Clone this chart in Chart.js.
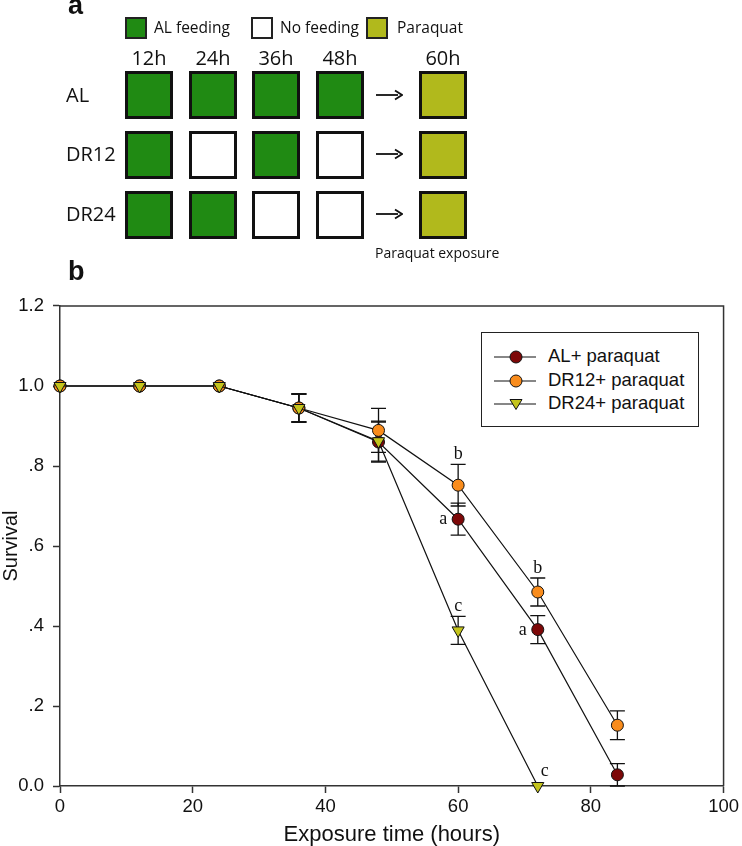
<!DOCTYPE html>
<html>
<head>
<meta charset="utf-8">
<script src="https://cdn.jsdelivr.net/npm/chart.js@4.4.1/dist/chart.umd.min.js"></script>
<style>
  html, body { margin:0; padding:0; background:#fff; }
  #wrap { position:relative; width:742px; height:846px; overflow:hidden; font-family:"Open Sans", "Noto Sans", sans-serif; color:#111; }
  #c { position:absolute; left:0; top:0; }
  .abs { position:absolute; }
  .sq { position:absolute; box-sizing:border-box; width:48px; height:48px; border:3px solid #111; }
  .lg { position:absolute; box-sizing:border-box; width:22px; height:22px; border:2px solid #222; top:17px; }
  .green { background:#208a13; }
  .white { background:#fff; }
  .para { background:#b1b91c; }
  .lgt { position:absolute; top:14px; font-size:15.5px; line-height:26px; white-space:nowrap; }
  .hh { position:absolute; top:45px; width:60px; text-align:center; font-size:20px; line-height:26px; }
  .rl { position:absolute; left:66px; font-size:20px; line-height:26px; }
  .arrow { position:absolute; left:376px; width:27px; height:12px; }
  .panel { position:absolute; font-family:"Liberation Sans", Arial, sans-serif; font-weight:bold; font-size:27px; line-height:27px; }
  #legend { position:absolute; left:481px; top:332px; width:218px; height:95px; box-sizing:border-box; border:1.3px solid #222; background:#fff; font-family:"Liberation Sans", Arial, sans-serif; font-size:18.5px; }
  .lrow { position:absolute; left:12px; height:22px; }
  .lrow svg { position:absolute; left:0; top:0; }
  .lrow span { position:absolute; left:54px; top:-1px; line-height:22px; white-space:nowrap; }
</style>
</head>
<body>
<div id="wrap">
  <canvas id="c" width="742" height="846"></canvas>

  <!-- panel a -->
  <div class="panel" style="left:68px; top:-8px;">a</div>
  <div class="lg green" style="left:125px;"></div><div class="lgt" style="left:154px;">AL feeding</div>
  <div class="lg white" style="left:251px;"></div><div class="lgt" style="left:280px;">No feeding</div>
  <div class="lg para" style="left:366px;"></div><div class="lgt" style="left:397px;">Paraquat</div>

  <div class="hh" style="left:119px;">12h</div>
  <div class="hh" style="left:183px;">24h</div>
  <div class="hh" style="left:246px;">36h</div>
  <div class="hh" style="left:310px;">48h</div>
  <div class="hh" style="left:413px;">60h</div>

  <div class="rl" style="top:82px;">AL</div>
  <div class="rl" style="top:141px;">DR12</div>
  <div class="rl" style="top:201px;">DR24</div>

  <div class="sq green" style="left:125px; top:71px;"></div>
  <div class="sq green" style="left:189px; top:71px;"></div>
  <div class="sq green" style="left:252px; top:71px;"></div>
  <div class="sq green" style="left:316px; top:71px;"></div>
  <div class="sq para"  style="left:419px; top:71px;"></div>

  <div class="sq green" style="left:125px; top:131px;"></div>
  <div class="sq white" style="left:189px; top:131px;"></div>
  <div class="sq green" style="left:252px; top:131px;"></div>
  <div class="sq white" style="left:316px; top:131px;"></div>
  <div class="sq para"  style="left:419px; top:131px;"></div>

  <div class="sq green" style="left:125px; top:191px;"></div>
  <div class="sq green" style="left:189px; top:191px;"></div>
  <div class="sq white" style="left:252px; top:191px;"></div>
  <div class="sq white" style="left:316px; top:191px;"></div>
  <div class="sq para"  style="left:419px; top:191px;"></div>

  <svg class="arrow" style="top:89px;" viewBox="0 0 27 12"><line x1="0" y1="6" x2="22" y2="6" stroke="#111" stroke-width="1.8"/><path d="M19,1.5 L26,6 L19,10.5" fill="none" stroke="#111" stroke-width="1.8"/></svg>
  <svg class="arrow" style="top:148px;" viewBox="0 0 27 12"><line x1="0" y1="6" x2="22" y2="6" stroke="#111" stroke-width="1.8"/><path d="M19,1.5 L26,6 L19,10.5" fill="none" stroke="#111" stroke-width="1.8"/></svg>
  <svg class="arrow" style="top:208px;" viewBox="0 0 27 12"><line x1="0" y1="6" x2="22" y2="6" stroke="#111" stroke-width="1.8"/><path d="M19,1.5 L26,6 L19,10.5" fill="none" stroke="#111" stroke-width="1.8"/></svg>

  <div class="abs" style="left:375px; top:243px; font-size:14px; line-height:20px;">Paraquat exposure</div>

  <!-- panel b -->
  <div class="panel" style="left:68px; top:258px;">b</div>

  <div id="legend">
    <div class="lrow" style="top:13px;">
      <svg width="44" height="22"><line x1="0" y1="11" x2="42" y2="11" stroke="#111" stroke-width="1.2"/><circle cx="22" cy="11" r="6" fill="#7d0808" stroke="#111" stroke-width="1"/></svg>
      <span>AL+ paraquat</span>
    </div>
    <div class="lrow" style="top:37px;">
      <svg width="44" height="22"><line x1="0" y1="11" x2="42" y2="11" stroke="#111" stroke-width="1.2"/><circle cx="22" cy="11" r="6" fill="#f98c1c" stroke="#111" stroke-width="1"/></svg>
      <span>DR12+ paraquat</span>
    </div>
    <div class="lrow" style="top:60px;">
      <svg width="44" height="22"><line x1="0" y1="11" x2="42" y2="11" stroke="#111" stroke-width="1.2"/><path d="M16,6.5 L28,6.5 L22,16.5 Z" fill="#c4c41c" stroke="#111" stroke-width="1"/></svg>
      <span>DR24+ paraquat</span>
    </div>
  </div>
</div>

<script>
// ---- data ----
const hours = [0, 12, 24, 36, 48, 60, 72, 84];
const xTickValues = [0, 20, 40, 60, 80, 100];
const yTickLabels = ['0.0', '.2', '.4', '.6', '.8', '1.0', '1.2'];

const seriesNames = ['AL+ paraquat', 'DR12+ paraquat', 'DR24+ paraquat'];
const alSurvival   = [1.0, 1.0, 1.0, 0.945, 0.860, 0.667, 0.391, 0.028];
const dr12Survival = [1.0, 1.0, 1.0, 0.945, 0.889, 0.752, 0.485, 0.152];
const dr24Survival = [1.0, 1.0, 1.0, 0.945, 0.862, 0.389, 0.0];

const alError   = [0, 0, 0, 0.035, 0.05, 0.04, 0.035, 0.028];
const dr12Error = [0, 0, 0, 0.035, 0.055, 0.052, 0.035, 0.036];
const dr24Error = [0, 0, 0, 0.035, 0.05, 0.035, 0];

// significance letters: series index, hour, letter, placement
const sigSeries = [1, 0, 2, 1, 0, 2];
const sigHours  = [60, 60, 60, 72, 72, 72];
const sigText   = ['b', 'a', 'c', 'b', 'a', 'c'];
const sigPlace  = ['above', 'left', 'above', 'above', 'left', 'aboveRight'];

// ---- build ----
const allValues = [alSurvival, dr12Survival, dr24Survival];
const allErrors = [alError, dr12Error, dr24Error];
const fills = ['#7d0808', '#f98c1c', '#c4c41c'];
const toPts = (vals) => vals.map((v, i) => ({ x: hours[i], y: v }));

const AXIS = '#333';

const errorBars = {
  id: 'errorBars',
  beforeDatasetsDraw(chart) {
    const { ctx, scales: { x, y } } = chart;
    ctx.save();
    ctx.strokeStyle = '#111';
    ctx.lineWidth = 1.3;
    allValues.forEach((vals, s) => {
      vals.forEach((v, i) => {
        const e = allErrors[s][i];
        if (!e) return;
        const px = x.getPixelForValue(hours[i]);
        const top = y.getPixelForValue(v + e);
        const bot = y.getPixelForValue(v - e);
        ctx.beginPath();
        ctx.moveTo(px, top); ctx.lineTo(px, bot);
        ctx.moveTo(px - 7.5, top); ctx.lineTo(px + 7.5, top);
        ctx.moveTo(px - 7.5, bot); ctx.lineTo(px + 7.5, bot);
        ctx.stroke();
      });
    });
    ctx.restore();
  }
};

const frame = {
  id: 'frame',
  afterDraw(chart) {
    const { ctx, chartArea: a } = chart;
    ctx.save();
    ctx.strokeStyle = AXIS;
    ctx.lineWidth = 1.5;
    ctx.beginPath();
    ctx.moveTo(a.left, a.top); ctx.lineTo(a.right, a.top); ctx.lineTo(a.right, a.bottom);
    ctx.stroke();
    // significance letters
    const { x, y } = chart.scales;
    ctx.fillStyle = '#111';
    ctx.font = '18px "Liberation Serif", "Times New Roman", serif';
    ctx.textAlign = 'center';
    ctx.textBaseline = 'alphabetic';
    sigText.forEach((t, k) => {
      const s = sigSeries[k];
      const i = hours.indexOf(sigHours[k]);
      const v = allValues[s][i];
      const e = allErrors[s][i] || 0;
      const px = x.getPixelForValue(sigHours[k]);
      if (sigPlace[k] === 'above') {
        ctx.fillText(t, px, y.getPixelForValue(v + e) - 5);
      } else if (sigPlace[k] === 'left') {
        ctx.fillText(t, px - 15, y.getPixelForValue(v) + 5);
      } else {
        ctx.fillText(t, px + 7, y.getPixelForValue(v) - 10);
      }
    });
    ctx.restore();
  }
};

new Chart(document.getElementById('c'), {
  type: 'line',
  data: {
    datasets: allValues.map((vals, s) => ({
      label: seriesNames[s],
      data: toPts(vals),
      borderColor: '#111',
      borderWidth: 1.2,
      backgroundColor: fills[s],
      pointBackgroundColor: fills[s],
      pointBorderColor: '#111',
      pointBorderWidth: 1,
      pointRadius: s === 2 ? 7 : 6,
      pointStyle: s === 2 ? 'triangle' : 'circle',
      pointRotation: s === 2 ? 180 : 0,
      tension: 0,
      fill: false,
      clip: false,
      order: 2 - s
    }))
  },
  options: {
    responsive: false,
    animation: false,
    events: [],
    layout: { padding: { top: 306, right: 15, left: 0, bottom: 0 } },
    plugins: { legend: { display: false }, tooltip: { enabled: false }, title: { display: false } },
    scales: {
      x: {
        type: 'linear',
        min: 0, max: 100,
        afterFit: (sc) => { sc.height = 60; },
        afterBuildTicks: (sc) => { sc.ticks = xTickValues.map(v => ({ value: v })); },
        ticks: {
          color: '#111',
          font: { family: '"Liberation Sans", Arial, sans-serif', size: 18.5 },
          padding: 3,
          maxRotation: 0,
          callback: (v) => String(v)
        },
        grid: { display: true, drawOnChartArea: false, drawTicks: true, tickLength: 7, tickColor: AXIS, tickWidth: 1.5 },
        border: { display: true, color: AXIS, width: 1.5 },
        title: {
          display: true, text: 'Exposure time (hours)', color: '#111',
          font: { family: '"Liberation Sans", Arial, sans-serif', size: 22, lineHeight: 1 },
          padding: { top: 0, bottom: 0 }
        }
      },
      y: {
        type: 'linear',
        min: 0, max: 1.2,
        afterFit: (sc) => { sc.width = 60; },
        afterBuildTicks: (sc) => { sc.ticks = yTickLabels.map((_, i) => ({ value: i * 0.2 })); },
        ticks: {
          color: '#111',
          font: { family: '"Liberation Sans", Arial, sans-serif', size: 18.5 },
          padding: 9,
          callback: (v, i) => yTickLabels[i]
        },
        grid: { display: true, drawOnChartArea: false, drawTicks: true, tickLength: 7, tickColor: AXIS, tickWidth: 1.5 },
        border: { display: true, color: AXIS, width: 1.5 },
        title: {
          display: true, text: 'Survival', color: '#111',
          font: { family: '"Liberation Sans", Arial, sans-serif', size: 20, lineHeight: 1 },
          padding: { top: 1, bottom: 0 }
        }
      }
    }
  },
  plugins: [errorBars, frame]
});
</script>
</body>
</html>
